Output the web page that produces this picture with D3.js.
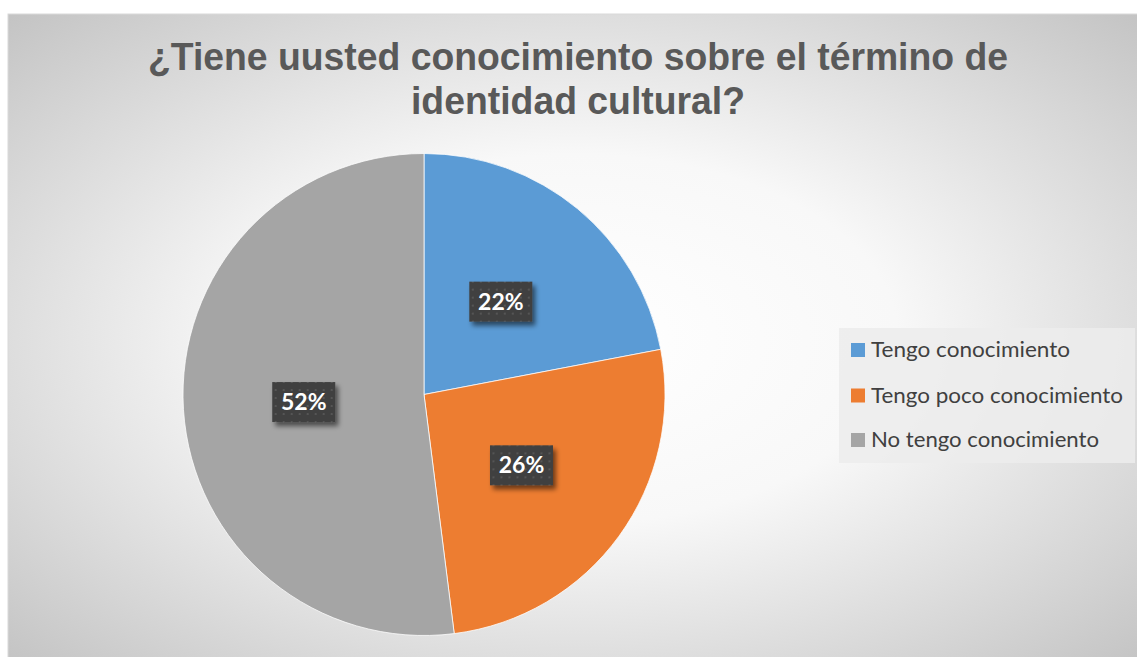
<!DOCTYPE html>
<html>
<head>
<meta charset="utf-8">
<script src="https://cdn.jsdelivr.net/npm/d3@7"></script>
<style>
html,body{margin:0;padding:0;background:#fff;}
svg{display:block;}
</style>
</head>
<body>
<svg id="chart" width="1137" height="657"></svg>
<script>
const titleLines = ["¿Tiene uusted conocimiento sobre el término de", "identidad cultural?"];
const categories = ["Tengo conocimiento", "Tengo poco conocimiento", "No tengo conocimiento"];
const values = [22, 26, 52];
const labels = ["22%", "26%", "52%"];
const colors = ["#5b9bd5", "#ed7d31", "#a5a5a5"];

const svg = d3.select("#chart");
const defs = svg.append("defs");

const grad = defs.append("radialGradient").attr("id","bg")
  .attr("cx","0.5").attr("cy","0.5").attr("r","0.71");
grad.append("stop").attr("offset","0").attr("stop-color","#ffffff");
grad.append("stop").attr("offset","0.4").attr("stop-color","#f8f8f8");
grad.append("stop").attr("offset","1").attr("stop-color","#c3c3c3");

const pat = defs.append("pattern").attr("id","dots")
  .attr("patternUnits","userSpaceOnUse").attr("width",8).attr("height",8);
pat.append("rect").attr("width",8).attr("height",8).attr("fill","#404040");
pat.append("rect").attr("x",3).attr("y",3).attr("width",2).attr("height",2).attr("fill","#555555");

const sh = defs.append("filter").attr("id","shadow")
  .attr("x","-30%").attr("y","-30%").attr("width","170%").attr("height","170%");
sh.append("feGaussianBlur").attr("in","SourceAlpha").attr("stdDeviation",2.5).attr("result","b");
sh.append("feOffset").attr("in","b").attr("dx",3).attr("dy",4).attr("result","o");
sh.append("feComponentTransfer").attr("in","o").attr("result","o2")
  .append("feFuncA").attr("type","linear").attr("slope",0.55);
const mg = sh.append("feMerge");
mg.append("feMergeNode").attr("in","o2");
mg.append("feMergeNode").attr("in","SourceGraphic");

// chart area
svg.append("rect").attr("x",8).attr("y",14).attr("width",1135).attr("height",650)
  .attr("fill","url(#bg)").attr("stroke","#d9d9d9").attr("stroke-width",1);

// title
const title = svg.append("g");
const tl = [{t:titleLines[0], y:70, w:860},{t:titleLines[1], y:114, w:334}];
tl.forEach(d => {
  title.append("text").attr("x",578).attr("y",d.y)
    .attr("text-anchor","middle")
    .attr("font-family","'Liberation Sans Narrow', 'Liberation Sans', Arial, sans-serif")
    .attr("font-weight","bold").attr("font-size",38)
    .attr("fill","#595959")
    .attr("textLength", d.w).attr("lengthAdjust","spacingAndGlyphs")
    .text(d.t);
});

// pie
const cx = 424, cy = 394.5, R = 241;
const pie = d3.pie().sort(null).value(d => d)(values);
const arc = d3.arc().innerRadius(0).outerRadius(R);
const labelArc = d3.arc().innerRadius(R*0.5).outerRadius(R*0.5);
const g = svg.append("g").attr("transform",`translate(${cx},${cy})`);
g.selectAll("path.slice").data(pie).enter().append("path")
  .attr("class","slice")
  .attr("d",arc)
  .attr("fill",(d,i)=>colors[i])
  .attr("stroke","#ffffff").attr("stroke-width",0.75);

// data labels
const lg = g.selectAll("g.lbl").data(pie).enter().append("g")
  .attr("class","lbl")
  .attr("transform",d=>{const c = labelArc.centroid(d); return `translate(${c[0]},${c[1]})`;});
lg.append("rect").attr("x",-31.5).attr("y",-20).attr("width",63).attr("height",40)
  .attr("fill","url(#dots)").attr("filter","url(#shadow)");
lg.append("text").attr("text-anchor","middle").attr("y",8)
  .attr("font-family","Lato, 'Open Sans', sans-serif")
  .attr("font-weight","bold").attr("font-size",23)
  .attr("fill","#ffffff")
  .text((d,i)=>labels[i]);

// legend
const leg = svg.append("g");
leg.append("rect").attr("x",839).attr("y",328).attr("width",296).attr("height",135)
  .attr("fill","#ececec").attr("fill-opacity",0.85);
const rowY = [350, 395.5, 440];
const tw = [199, 252, 228];
categories.forEach((c,i) => {
  leg.append("rect").attr("x",851).attr("y",rowY[i]-7).attr("width",14).attr("height",14)
    .attr("fill",colors[i]);
  leg.append("text").attr("x",871).attr("y",rowY[i]+7.3)
    .attr("font-family","Lato, 'Open Sans', sans-serif")
    .attr("font-size",21).attr("fill","#404040")
    .attr("textLength",tw[i]).attr("lengthAdjust","spacingAndGlyphs")
    .text(c);
});
</script>
</body>
</html>
